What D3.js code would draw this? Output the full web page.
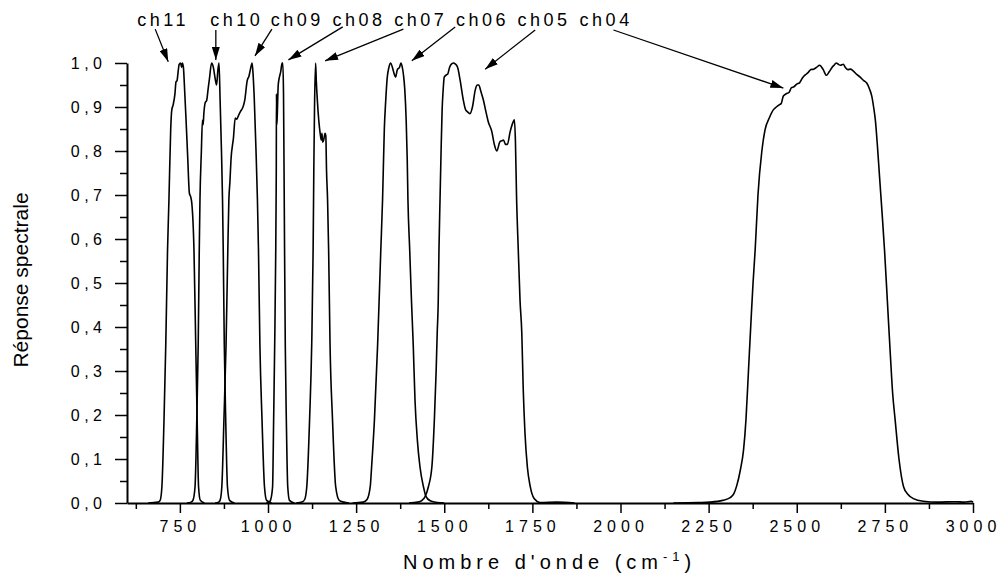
<!DOCTYPE html>
<meta charset="utf-8">
<script src="https://d3js.org/d3.v7.min.js"></script>
<style>
  body { margin: 0; background: #fff; }
  text { font-family: "Liberation Sans", Arial, sans-serif; fill: #000; }
  .axis path, .axis line { stroke: #000; }
  .curve { fill: none; stroke: #000; stroke-width: 1.6px; stroke-linejoin: round; }
</style>
<body>
<div id="my_dataviz"></div>
<script>
// spectral response of each channel: [wavenumber cm-1, response]
var ch11 = [[660,0],[688,0.002],[694,0.006],[699,0.037],[705,0.19],[710,0.36],[715,0.575],[719,0.689],[724,0.85],[727,0.893],[731,0.905],[736,0.93],[739,0.957],[742,0.96],[745,0.98],[748,0.997],[752,1.0],[755,0.99],[757,1.0],[760,0.99],[764,0.93],[767,0.88],[772,0.79],[777,0.704],[781,0.695],[784,0.68],[790,0.575],[795,0.36],[799,0.19],[803,0.037],[808,0.006],[820,0]];
var ch10 = [[770,0],[782,0.002],[787,0.006],[793,0.037],[798,0.19],[802,0.36],[805,0.575],[807,0.689],[811,0.8],[814,0.87],[816,0.86],[818,0.885],[822,0.91],[826,0.915],[830,0.94],[834,0.965],[840,1.0],[845,0.99],[850,0.965],[854,0.95],[858,0.985],[861,1.0],[864,0.92],[868,0.8],[871,0.689],[873,0.575],[876,0.36],[880,0.19],[885,0.037],[891,0.006],[905,0]];
var ch09 = [[850,0],[860,0.002],[864,0.006],[869,0.037],[875,0.19],[881,0.36],[886,0.575],[889,0.689],[892,0.73],[895,0.78],[902,0.83],[907,0.875],[911,0.872],[916,0.88],[922,0.89],[929,0.9],[934,0.915],[941,0.96],[946,0.97],[950,0.985],[955,1.0],[958,0.97],[961,0.92],[966,0.8],[970,0.689],[973,0.575],[977,0.36],[983,0.19],[990,0.037],[996,0.006],[1005,0.002],[1010,0]];
var ch08 = [[995,0],[1003,0.002],[1007,0.006],[1013,0.037],[1016,0.19],[1019,0.36],[1022,0.575],[1023,0.689],[1023.5,0.76],[1024,0.93],[1025,0.86],[1026,0.875],[1029,0.95],[1033,0.97],[1036,0.98],[1040,1.0],[1042,1.0],[1044,0.93],[1045.5,0.76],[1047,0.575],[1049,0.36],[1052,0.19],[1056,0.037],[1061,0.006],[1075,0]];
var ch07 = [[1080,0],[1098,0.003],[1104,0.008],[1110,0.037],[1118,0.19],[1124,0.36],[1128,0.575],[1130,0.76],[1132,0.9],[1135,1.0],[1137,0.96],[1140,0.915],[1144,0.87],[1148,0.84],[1151,0.825],[1153,0.84],[1155,0.82],[1158,0.825],[1162,0.84],[1164,0.835],[1166,0.757],[1169,0.689],[1172,0.575],[1176,0.36],[1183,0.19],[1192,0.037],[1202,0.006],[1215,0.002],[1230,0]];
var ch06 = [[1240,0],[1270,0.002],[1281,0.008],[1290,0.037],[1294,0.083],[1302,0.19],[1311,0.36],[1320,0.575],[1325,0.689],[1330,0.85],[1334,0.915],[1338,0.965],[1343,0.99],[1348,1.0],[1353,0.99],[1358,0.975],[1362,0.968],[1367,0.985],[1373,0.99],[1377,1.0],[1381,0.99],[1384,0.975],[1388,0.94],[1392,0.87],[1395,0.78],[1397,0.689],[1402,0.575],[1407,0.46],[1412,0.36],[1417,0.234],[1424,0.14],[1431,0.083],[1441,0.037],[1448,0.015],[1460,0.005],[1480,0.001],[1500,0]];
var ch05 = [[1400,0],[1425,0.002],[1437,0.006],[1446,0.015],[1455,0.037],[1465,0.083],[1472,0.19],[1477,0.3],[1480,0.386],[1483,0.46],[1485,0.575],[1488,0.689],[1491,0.8],[1494,0.894],[1497,0.94],[1500,0.968],[1506,0.973],[1510,0.975],[1515,0.99],[1521,0.998],[1527,1.0],[1531,0.998],[1538,0.99],[1545,0.961],[1554,0.916],[1560,0.895],[1566,0.889],[1573,0.885],[1580,0.9],[1588,0.939],[1594,0.95],[1598,0.95],[1604,0.935],[1611,0.916],[1618,0.89],[1625,0.866],[1635,0.844],[1642,0.815],[1649,0.8],[1658,0.821],[1663,0.823],[1668,0.825],[1674,0.815],[1679,0.815],[1687,0.844],[1695,0.865],[1699,0.871],[1702,0.82],[1705,0.7],[1710,0.575],[1715,0.46],[1720,0.386],[1724,0.26],[1729,0.159],[1736,0.08],[1744,0.037],[1755,0.01],[1772,0.001],[1820,0.002],[1870,0]];
var ch04 = [[2150,0],[2220,0.001],[2254,0.002],[2290,0.006],[2311,0.012],[2322,0.022],[2330,0.04],[2340,0.075],[2349,0.12],[2356,0.19],[2363,0.3],[2370,0.41],[2376,0.5],[2382,0.575],[2390,0.7],[2401,0.8],[2410,0.848],[2422,0.875],[2434,0.894],[2442,0.9],[2450,0.905],[2456,0.908],[2462,0.925],[2470,0.93],[2478,0.933],[2485,0.944],[2492,0.946],[2500,0.952],[2508,0.955],[2516,0.966],[2524,0.973],[2532,0.978],[2540,0.985],[2548,0.986],[2556,0.99],[2565,0.995],[2575,0.985],[2584,0.972],[2592,0.98],[2600,0.99],[2606,0.995],[2612,1.0],[2618,0.997],[2624,0.995],[2632,0.997],[2638,0.99],[2645,0.985],[2652,0.986],[2660,0.982],[2670,0.974],[2680,0.968],[2690,0.96],[2699,0.954],[2707,0.94],[2713,0.924],[2718,0.9],[2723,0.87],[2729,0.81],[2735,0.74],[2742,0.66],[2749,0.575],[2757,0.46],[2766,0.33],[2772,0.25],[2779,0.19],[2790,0.1],[2803,0.037],[2815,0.02],[2831,0.01],[2859,0.004],[2900,0.002],[2950,0.003],[2975,0.002],[2995,0.004],[3000,0.002]];

var curves = [ch11, ch10, ch09, ch08, ch07, ch06, ch05, ch04];
var channels = ["ch11", "ch10", "ch09", "ch08", "ch07", "ch06", "ch05", "ch04"];
// label start (wavenumber) and arrows from label to curve, in data units
var labelX = [629, 836, 1008, 1183, 1358, 1533, 1708, 1884];
var labelY = 1.083;
var arrowFrom = [[680,1.077],[852,1.075],[1011,1.077],[1212,1.082],[1384,1.077],[1531,1.082],[1758,1.075],[1980,1.075]];
var arrowTo = [[717,1.003],[852,1.007],[963,1.016],[1058,1.007],[1162,1.005],[1408,1.005],[1616,0.986],[2462,0.943]];

var xMajor = [750, 1000, 1250, 1500, 1750, 2000, 2250, 2500, 2750, 3000];
var xMinor = [625, 875, 1125, 1375, 1625, 1875, 2125, 2375, 2625, 2875];
var yMajor = [0, 0.1, 0.2, 0.3, 0.4, 0.5, 0.6, 0.7, 0.8, 0.9, 1.0];
var yMinor = [0.05, 0.15, 0.25, 0.35, 0.45, 0.55, 0.65, 0.75, 0.85, 0.95];

var margin = {top: 63, right: 28, bottom: 72, left: 127},
    width = 1001 - margin.left - margin.right,
    height = 575 - margin.top - margin.bottom;

var svg = d3.select("#my_dataviz")
  .append("svg")
    .attr("width", 1001)
    .attr("height", 575)
  .append("g")
    .attr("transform", "translate(" + margin.left + "," + margin.top + ")");

var x = d3.scaleLinear().domain([600, 3000]).range([0, width]);
var y = d3.scaleLinear().domain([0, 1]).range([height, 0]);

var comma = function(d) { return d3.format(".1f")(d).replace(".", ","); };

// curves
var line = d3.line()
  .x(function(d) { return x(d[0]); })
  .y(function(d) { return y(d[1]); })
  .curve(d3.curveMonotoneX);

svg.append("g")
  .selectAll("path")
  .data(curves)
  .enter()
  .append("path")
    .attr("class", "curve")
    .attr("d", line);

// x axis
var xAxis = svg.append("g")
  .attr("class", "axis")
  .attr("transform", "translate(0," + height + ")")
  .call(d3.axisBottom(x).tickValues(xMajor).tickSize(10).tickSizeOuter(0).tickPadding(7.6).tickFormat(d3.format("d")));
xAxis.select(".domain").attr("stroke-width", 2);
xAxis.selectAll(".tick line").attr("stroke-width", 1.5);
xAxis.selectAll("text")
  .attr("font-size", 16)
  .attr("font-family", "Liberation Sans, Arial, sans-serif")
  .attr("letter-spacing", 5);

svg.append("g")
  .attr("class", "axis")
  .attr("transform", "translate(0," + height + ")")
  .call(d3.axisBottom(x).tickValues(xMinor).tickSize(6).tickSizeOuter(0).tickFormat(""))
  .call(function(g) { g.select(".domain").remove(); })
  .selectAll(".tick line").attr("stroke-width", 1.5);

// y axis
var yAxis = svg.append("g")
  .attr("class", "axis")
  .call(d3.axisLeft(y).tickValues(yMajor).tickSize(12).tickSizeOuter(0).tickPadding(8.5).tickFormat(comma));
yAxis.select(".domain").attr("stroke-width", 2);
yAxis.selectAll(".tick line").attr("stroke-width", 1.5);
yAxis.selectAll("text")
  .attr("font-size", 16)
  .attr("font-family", "Liberation Sans, Arial, sans-serif")
  .attr("letter-spacing", 4.5);

svg.append("g")
  .attr("class", "axis")
  .call(d3.axisLeft(y).tickValues(yMinor).tickSize(7).tickSizeOuter(0).tickFormat(""))
  .call(function(g) { g.select(".domain").remove(); })
  .selectAll(".tick line").attr("stroke-width", 1.5);

// axis titles
svg.append("text")
  .attr("transform", "translate(" + (28 - margin.left) + "," + (height / 2 - 3) + ") rotate(-90)")
  .attr("text-anchor", "middle")
  .attr("font-size", 21)
  .text("Réponse spectrale");

var xt = svg.append("text")
  .attr("x", 403 - margin.left)
  .attr("y", 569 - margin.top)
  .attr("font-size", 20)
  .attr("letter-spacing", 5);
xt.append("tspan").text("Nombre d'onde (cm");
xt.append("tspan").attr("font-size", 13).attr("dy", -8).text("-1");
xt.append("tspan").attr("dy", 8).text(")");

// channel labels and arrows
svg.append("defs").append("marker")
  .attr("id", "head")
  .attr("viewBox", "0 0 13 8")
  .attr("refX", 13)
  .attr("refY", 4)
  .attr("markerWidth", 13)
  .attr("markerHeight", 8)
  .attr("markerUnits", "userSpaceOnUse")
  .attr("orient", "auto")
  .append("path")
    .attr("d", "M0,0L13,4L0,8Z")
    .attr("fill", "#000");

svg.append("g")
  .selectAll("line")
  .data(channels)
  .enter()
  .append("line")
    .attr("x1", function(d, i) { return x(arrowFrom[i][0]); })
    .attr("y1", function(d, i) { return y(arrowFrom[i][1]); })
    .attr("x2", function(d, i) { return x(arrowTo[i][0]); })
    .attr("y2", function(d, i) { return y(arrowTo[i][1]); })
    .attr("stroke", "#000")
    .attr("stroke-width", 1.3)
    .attr("marker-end", "url(#head)");

svg.append("g")
  .selectAll("text")
  .data(channels)
  .enter()
  .append("text")
    .attr("x", function(d, i) { return x(labelX[i]); })
    .attr("y", y(labelY))
    .attr("font-size", 18)
    .attr("letter-spacing", 3.5)
    .text(function(d) { return d; });
</script>
</body>
